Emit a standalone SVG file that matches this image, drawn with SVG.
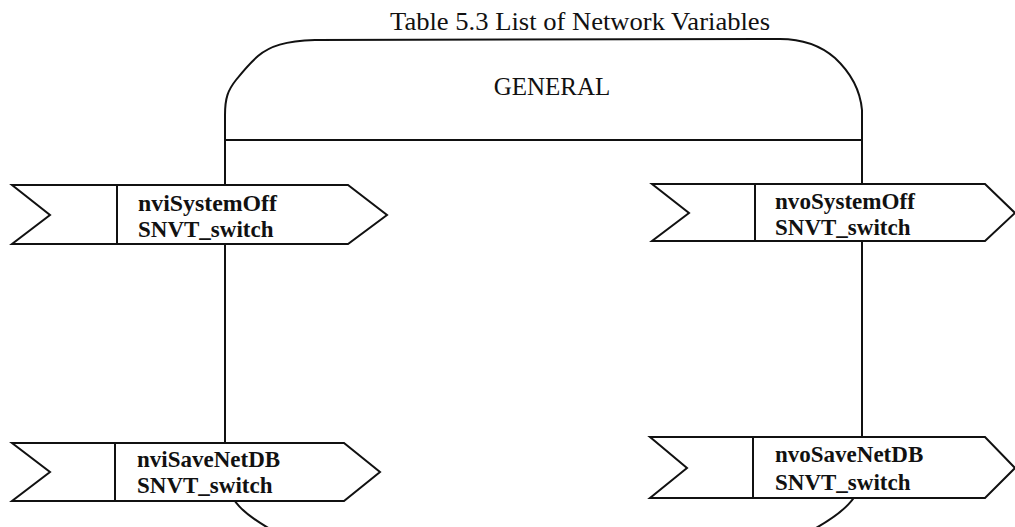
<svg xmlns="http://www.w3.org/2000/svg" width="1015" height="527" viewBox="0 0 1015 527">
  <style>
    .line { fill: none; stroke: #111; stroke-width: 2; }
    .nv { fill: #fff; stroke: #111; stroke-width: 2; stroke-linejoin: miter; }
    .sep { stroke: #111; stroke-width: 2; }
    .lbl { font-family: "Liberation Serif", "DejaVu Serif", serif; font-size: 23px; font-weight: bold; fill: #111; }
    .ttl { font-family: "Liberation Serif", "DejaVu Serif", serif; font-size: 25px; fill: #111; }
  </style>
  <rect width="1015" height="527" fill="#fff"/>

  <text class="ttl" x="390" y="30" textLength="380" lengthAdjust="spacingAndGlyphs">Table 5.3 List of Network Variables</text>

  <!-- GENERAL object outline -->
  <g id="general">
    <path class="line" d="M225,470 L225,115 C225,98 228,90 236,80 C244,70 250,63 258,56 C270,46 285,41 315,40 L780,39 C800,39 820,45 835,58 C850,72 860,88 862,110 L862,470"/>
    <path class="line" d="M225,470 C225,500 245,516 281,535"/>
    <path class="line" d="M863,470 C863,496 844,514 803,535"/>
    <line class="sep" x1="225" y1="140" x2="862" y2="140"/>
    <text class="ttl" x="552" y="95" text-anchor="middle">GENERAL</text>
  </g>

  <g id="connectors"/>

  <!-- network variables -->
  <g id="nviSystemOff">
    <polygon class="nv" points="12,185 348,185 387,215 348,244 12,244 50,215"/>
    <line class="sep" x1="117" y1="185" x2="117" y2="244"/>
    <text class="lbl" x="138" y="211" textLength="139" lengthAdjust="spacingAndGlyphs">nviSystemOff</text>
    <text class="lbl" x="138" y="237">SNVT_switch</text>
  </g>

  <g id="nvoSystemOff">
    <polygon class="nv" points="652,184 985,184 1015,213 985,241 652,241 689,213"/>
    <line class="sep" x1="755" y1="184" x2="755" y2="241"/>
    <text class="lbl" x="775" y="209" textLength="140" lengthAdjust="spacingAndGlyphs">nvoSystemOff</text>
    <text class="lbl" x="775" y="235">SNVT_switch</text>
  </g>

  <g id="nviSaveNetDB">
    <polygon class="nv" points="12,443 344,443 380,472 344,501 12,501 50,472"/>
    <line class="sep" x1="115" y1="443" x2="115" y2="501"/>
    <text class="lbl" x="137" y="467">nviSaveNetDB</text>
    <text class="lbl" x="137" y="493">SNVT_switch</text>
  </g>

  <g id="nvoSaveNetDB">
    <polygon class="nv" points="650,437 985,437 1015,468 985,498 650,498 687,468"/>
    <line class="sep" x1="753" y1="437" x2="753" y2="498"/>
    <text class="lbl" x="775" y="462">nvoSaveNetDB</text>
    <text class="lbl" x="775" y="490">SNVT_switch</text>
  </g>
</svg>
